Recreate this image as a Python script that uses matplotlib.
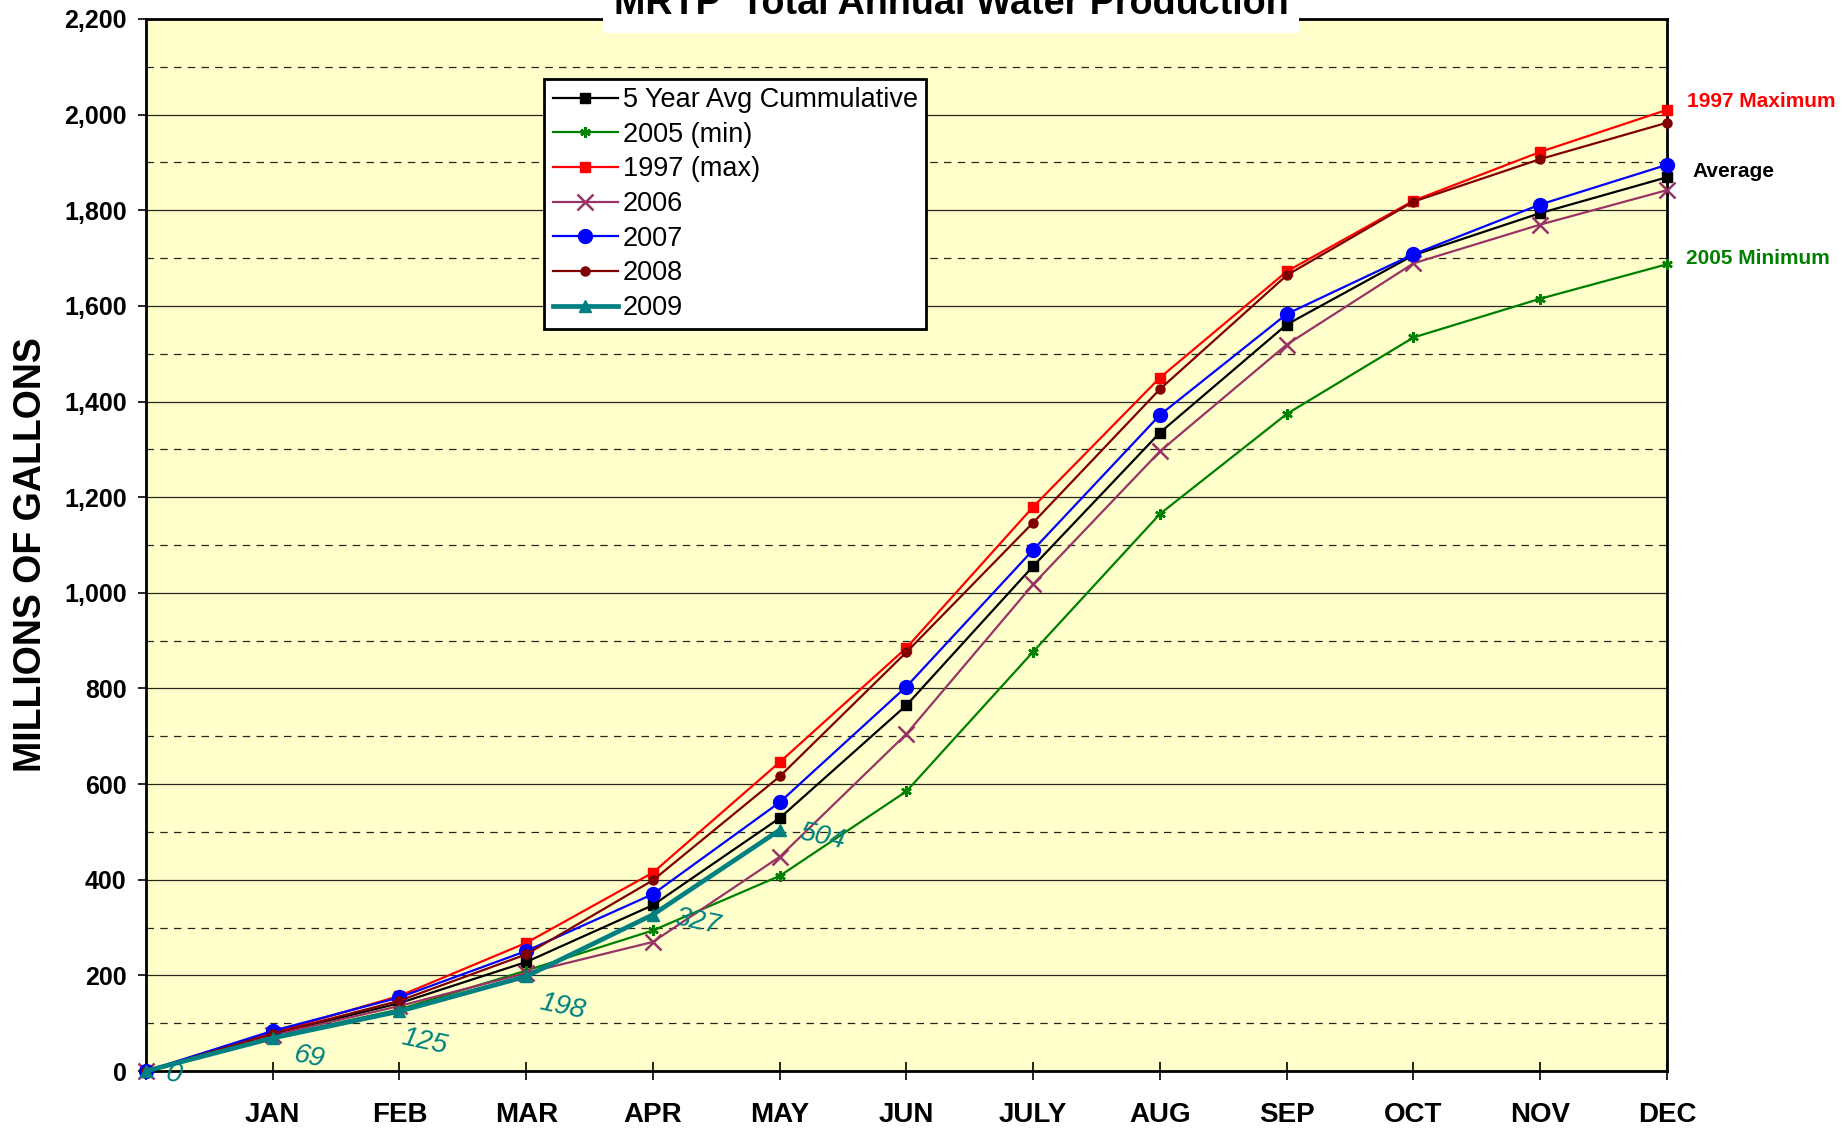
import numpy as np
import matplotlib
matplotlib.use("Agg")
import matplotlib.pyplot as plt
from matplotlib.ticker import MultipleLocator, FuncFormatter

# ================= DATA =================
MONTHS = ["", "JAN", "FEB", "MAR", "APR", "MAY", "JUN",
          "JULY", "AUG", "SEP", "OCT", "NOV", "DEC"]

AVG_5YR = [0, 77, 142, 228, 347, 529, 765, 1056, 1335, 1561, 1706, 1794, 1869]
Y2005 = [0, 71, 129, 210, 294, 408, 585, 877, 1165, 1374, 1534, 1615, 1687]
Y1997 = [0, 80, 157, 268, 415, 646, 885, 1180, 1450, 1672, 1820, 1922, 2010]
Y2006 = [0, 75, 136, 205, 270, 448, 705, 1018, 1296, 1519, 1689, 1770, 1842]
Y2007 = [0, 84, 154, 251, 370, 562, 804, 1090, 1372, 1583, 1708, 1812, 1895]
Y2008 = [0, 78, 147, 244, 399, 616, 876, 1147, 1426, 1664, 1818, 1907, 1983]
Y2009 = [0, 69, 125, 198, 327, 504]

# ================= STYLE =================
FONT = "Liberation Sans"
plt.rcParams["font.family"] = [FONT, "DejaVu Sans"]
BG = "#FFFFCC"
TEAL = "#008080"

# label offsets for 2009 values (points)
LABEL_OFFSETS = [(20, -3), (26, -14), (18, -22), (26, -22), (32, -5), (31, -5)]

fig = plt.figure(figsize=(18.43, 11.28), dpi=100)
ax = fig.add_axes([0.0792, 0.0505, 0.8253, 0.9327])
ax.set_facecolor(BG)

x = np.arange(len(MONTHS))

series = [
    (AVG_5YR, "5 Year Avg Cummulative", "black", "s", 7, 1.6),
    (Y2005, "2005 (min)", "#008000", (6, 2, 0), 7.5, 1.6),
    (Y1997, "1997 (max)", "red", "s", 7, 1.6),
    (Y2006, "2006", "#993366", "x", 11, 1.6),
    (Y2007, "2007", "blue", "o", 10, 1.6),
    (Y2008, "2008", "#800000", "o", 6.5, 1.6),
    (Y2009, "2009", TEAL, "^", 9, 3.4),
]

for vals, label, color, marker, ms, lw in series:
    mew = 1.8 if marker in ("x", (6, 2, 0)) else 1.0
    ax.plot(x[:len(vals)], vals, color=color, marker=marker, markersize=ms,
            linewidth=lw, markeredgewidth=mew, label=label, clip_on=False,
            zorder=3)

# 2009 value labels
for i, v in enumerate(Y2009):
    dx, dy = LABEL_OFFSETS[i]
    ax.annotate(str(v), (x[i], v), xytext=(dx, dy), textcoords="offset points",
                ha="center", va="center", color=TEAL, fontsize=20,
                style="italic", rotation=-12, zorder=4)

# axes
ax.set_xlim(0, 12)
ax.set_ylim(0, 2200)
ax.set_xticks(x)
ax.set_xticklabels(MONTHS, fontsize=20, fontweight="bold")
ax.tick_params(axis="x", direction="inout", length=13, width=1.2, pad=16)
ax.yaxis.set_major_locator(MultipleLocator(200))
ax.yaxis.set_minor_locator(MultipleLocator(100))
ax.yaxis.set_major_formatter(FuncFormatter(lambda v, p: f"{int(v):,}"))
ax.tick_params(axis="y", which="major", direction="out", length=6,
               width=1.2, pad=8, labelsize=18)
ax.tick_params(axis="y", which="minor", length=0)
for lab in ax.get_yticklabels():
    lab.set_fontweight("bold")

ax.grid(True, axis="y", which="major", color="black", linewidth=0.9,
        alpha=0.85, zorder=1)
ax.grid(True, axis="y", which="minor", color="black", linewidth=0.9,
        alpha=0.85, linestyle=(0, (6, 5)), zorder=1)
ax.set_axisbelow(True)
for sp in ax.spines.values():
    sp.set_linewidth(2)
    sp.set_color("black")

# y label
fig.text(31 / 1843, 1 - 555 / 1128, "MILLIONS OF GALLONS", rotation=90,
         ha="center", va="center", fontsize=27, fontweight="bold")

# title (partly above the figure edge, as in the original)
fig.text(0.516, 1 - 14 / 1128, "MRTP  Total Annual Water Production",
         ha="center", va="baseline", fontsize=27.2, fontweight="bold",
         bbox=dict(facecolor="white", edgecolor="none", pad=8))

# right-side labels
ax.text(12.16, 2028, "1997 Maximum", color="red", fontsize=15,
        fontweight="bold", va="center", ha="left", clip_on=False)
ax.text(12.2, 1880, "Average", color="black", fontsize=15,
        fontweight="bold", va="center", ha="left", clip_on=False)
ax.text(12.15, 1700, "2005 Minimum", color="#008000", fontsize=15,
        fontweight="bold", va="center", ha="left", clip_on=False)

leg = ax.legend(loc="upper left", bbox_to_anchor=(0.262, 0.943),
                borderaxespad=0, fontsize=19.5, frameon=True, fancybox=False,
                edgecolor="black", facecolor="white", framealpha=1,
                handlelength=2.4, handletextpad=0.2, labelspacing=0.32,
                borderpad=0.3)
leg.get_frame().set_linewidth(2)
leg.set_zorder(5)

fig.savefig("out.png", dpi=100, facecolor="white")
